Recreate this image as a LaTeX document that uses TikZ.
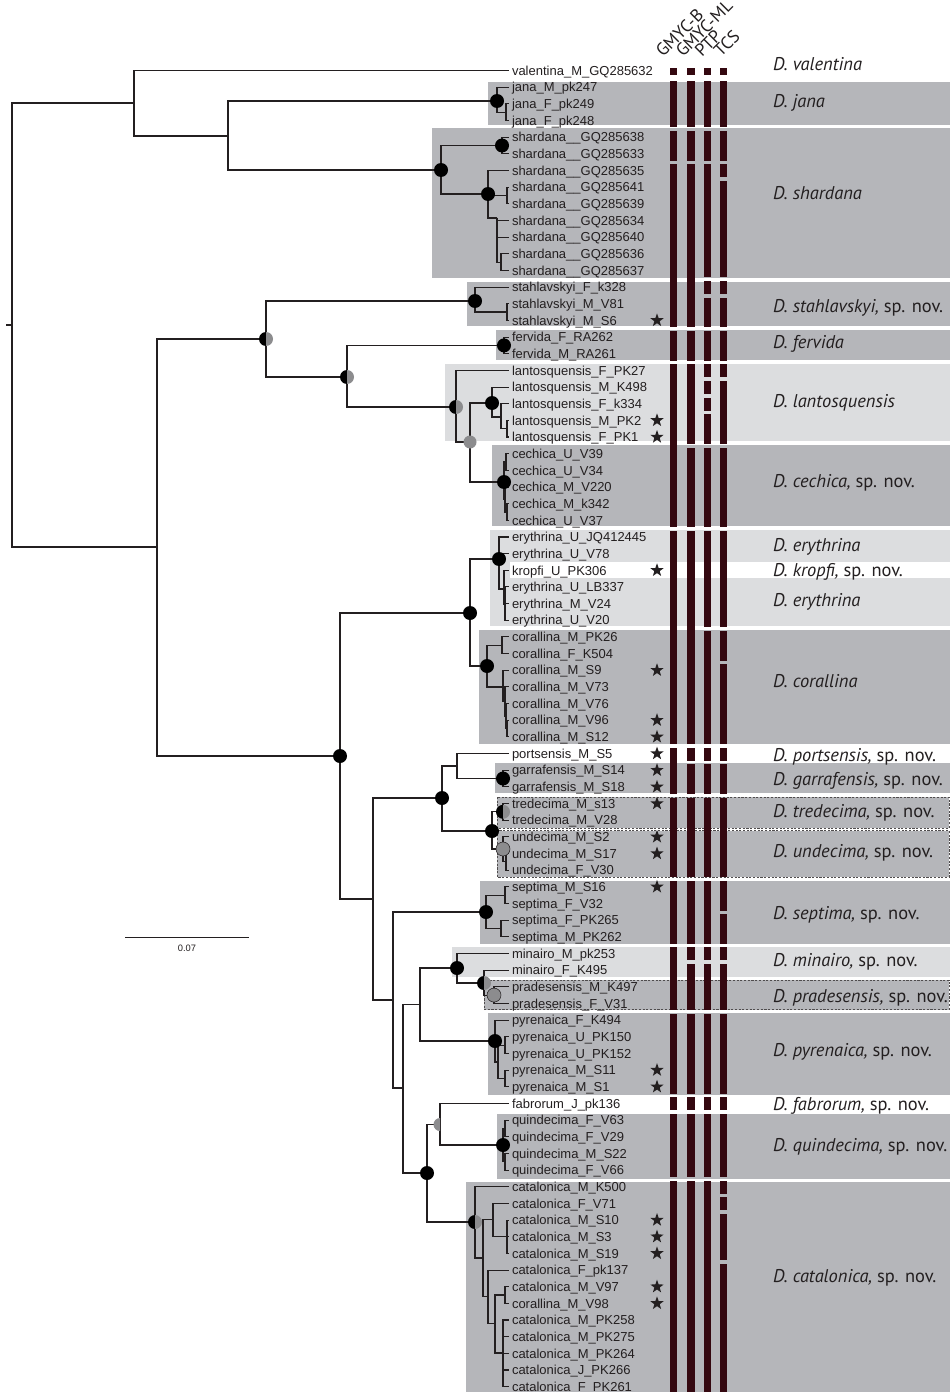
\documentclass[tikz,border=0pt]{standalone}
\usepackage{fontspec}
\setmainfont{Liberation Sans}
\newfontfamily\spfont{PT Sans}
\usetikzlibrary{shapes.geometric}
\definecolor{boxdark}{RGB}{181,182,186}
\definecolor{boxlight}{RGB}{220,221,223}
\definecolor{barcol}{RGB}{52,8,16}
\definecolor{suppgrey}{RGB}{140,140,142}
\definecolor{ink}{RGB}{35,31,32}
\newcommand\barseg[3]{\fill[barcol] ({#1-3.7},{70.5+16.66*(#2-1)-6}) rectangle ({#1+3.7},{70.5+16.66*(#3-1)+7});}
\newcommand\halfdot[3]{%
  \fill[#2] (#1) ++(90:0.14cm) arc[start angle=90,end angle=270,radius=0.14cm] -- cycle;
  \fill[#3] (#1) ++(-90:0.14cm) arc[start angle=-90,end angle=90,radius=0.14cm] -- cycle;}
\begin{document}
\begin{tikzpicture}[x=0.02cm,y=-0.02cm,every node/.style={inner sep=0pt,outer sep=0pt}]
\tikzset{
  branch/.style={draw=ink,line width=0.6pt},
  leaflab/.style={anchor=base west,font=\fontsize{7.4}{8}\selectfont,text=ink},
  splab/.style={anchor=base west,font=\spfont\fontsize{10.5}{12}\selectfont,text=ink},
  hdr/.style={anchor=base west,rotate=45,font=\spfont\fontsize{10}{11}\selectfont,text=ink},
  boxD/.style={fill=boxdark},
  boxL/.style={fill=boxlight},
  dbox/.style={fill=boxdark,draw=ink!80,dash pattern=on 1.2pt off 0.9pt,line width=0.45pt},
  starn/.style={star,star points=5,star point ratio=2.5,minimum size=0.28cm,fill=ink,draw=none},
  fulldot/.style={fill=black},
}
\useasboundingbox (0,0) rectangle (950,1392);
\fill[white] (0,0) rectangle (950,1392);
% boxes
\fill[boxD] (488,82.5) rectangle (950,125);
\fill[boxD] (432,128.5) rectangle (950,277.5);
\fill[boxD] (467,282) rectangle (950,326);
\fill[boxD] (496,330) rectangle (950,359.5);
\fill[boxL] (445,363.5) rectangle (950,441);
\fill[boxD] (492,445) rectangle (950,526);
\fill[boxL] (490,530) rectangle (950,625.5);
\fill[white] (510,562) rectangle (950,578);
\fill[boxD] (479,629.5) rectangle (950,744);
\fill[boxD] (495,763) rectangle (950,793);
\filldraw[dbox] (497,797) rectangle (949,828);
\filldraw[dbox] (497,830.5) rectangle (949,877);
\fill[boxD] (480,880.5) rectangle (950,943.5);
\fill[boxL] (452,947) rectangle (950,977);
\filldraw[dbox] (484,980) rectangle (949,1009.5);
\fill[boxD] (488,1013) rectangle (950,1094.5);
\fill[boxD] (497,1114) rectangle (950,1178.5);
\fill[boxD] (466,1182) rectangle (950,1392);
% leaves
\foreach \i in {1,...,80} {\coordinate (L\i) at (509,{70.5+16.66*(\i-1)});}
% internal nodes
\coordinate (R0) at (6,325); \coordinate (R) at (12,325);
\coordinate (T) at (134,103); \coordinate (T2) at (228,136);
\coordinate (J) at (497,101); \coordinate (J2) at (506,112.2);
\coordinate (S) at (441,170); \coordinate (Sa) at (502,145.5); \coordinate (Sb) at (488,194);
\coordinate (Sc) at (507,195.5); \coordinate (Sd) at (497,218); \coordinate (Sf) at (501,262.1);
\coordinate (U) at (157,547); \coordinate (V) at (266,339); \coordinate (St) at (475,301);
\coordinate (St2) at (507,312); \coordinate (X) at (347,377); \coordinate (F) at (504,345.4);
\coordinate (La) at (456,407); \coordinate (Lb) at (470,442); \coordinate (Lc) at (492,403);
\coordinate (Ld) at (501,417); \coordinate (Le) at (507,428.7); \coordinate (Ce) at (504,482);
\coordinate (Cf) at (506,462); \coordinate (Cg) at (505,499.5); \coordinate (Ch) at (507,512);
\coordinate (W) at (340,756); \coordinate (E) at (470,613); \coordinate (Er) at (499,559);
\coordinate (Erb) at (504,589); \coordinate (Erc) at (505,604); \coordinate (Co) at (487,666);
\coordinate (Coa) at (502,645.2); \coordinate (Cob) at (503,687); \coordinate (Coc) at (505,701.5);
\coordinate (Cod) at (506,716); \coordinate (Coe) at (507,728.5);
\coordinate (Y) at (373,899); \coordinate (G) at (442,798); \coordinate (P) at (457,766);
\coordinate (Ga) at (503,778.5); \coordinate (TU) at (492,831); \coordinate (Tr) at (503,811.8);
\coordinate (Un) at (503,849); \coordinate (Un2) at (506,861.8);
\coordinate (Z) at (393,1000); \coordinate (Se) at (486,912); \coordinate (Sea) at (505,895.2);
\coordinate (Seb) at (501,928.5);
\coordinate (Z2) at (403,1088); \coordinate (Z3) at (420,1004.5); \coordinate (Mi) at (457,968);
\coordinate (Mi2) at (484,983); \coordinate (Pr) at (494,995.1); \coordinate (Py) at (495,1041);
\coordinate (Pya) at (498,1062); \coordinate (Pyb) at (505,1045.1); \coordinate (Pyc) at (505,1078.4);
\coordinate (Z4) at (427,1173); \coordinate (Fq) at (440,1124.5); \coordinate (Q) at (503,1145);
\coordinate (Qa) at (505,1128.4); \coordinate (Qb) at (505,1161.7);
\coordinate (Ca) at (475,1222); \coordinate (Cz) at (483,1258); \coordinate (A) at (493,1219.7);
\coordinate (A2) at (507,1236.7); \coordinate (Bp) at (488,1296.6); \coordinate (B2) at (495,1323.5);
\coordinate (B3) at (505,1295); \coordinate (B4) at (503,1353);
% scale bar coordinates
\coordinate (sb1) at (125,937.5); \coordinate (sb2) at (249,937.5);
% branches
\draw[branch] (R0) -- (R);
\foreach \p/\c in {R/T,R/U,T/L1,T/T2,T2/J,T2/S,J/L2,J/J2,J2/L3,J2/L4,S/Sa,S/Sb,Sa/L5,Sa/L6,
  Sb/L7,Sb/Sc,Sb/Sd,Sc/L8,Sc/L9,Sd/L10,Sd/L11,Sd/Sf,Sf/L12,Sf/L13,
  U/V,U/W,V/St,V/X,St/L14,St/St2,St2/L15,St2/L16,X/F,X/La,F/L17,F/L18,La/L19,La/Lb,Lb/Lc,Lb/Ce,
  Lc/L20,Lc/Ld,Ld/L21,Ld/Le,Le/L22,Le/L23,Ce/Cf,Ce/Cg,Cf/L24,Cf/L25,Cg/L26,Cg/Ch,Ch/L27,Ch/L28,
  W/E,W/Y,E/Er,E/Co,Er/L29,Er/L30,Er/Erb,Erb/L31,Erb/Erc,Erc/L32,Erc/L33,Erc/L34,
  Co/Coa,Co/Cob,Coa/L35,Coa/L36,Cob/L37,Cob/Coc,Coc/L38,Coc/Cod,Cod/L39,Cod/Coe,Coe/L40,Coe/L41,
  Y/G,Y/Z,G/P,G/TU,P/L42,P/Ga,Ga/L43,Ga/L44,TU/Tr,TU/Un,Tr/L45,Tr/L46,Un/L47,Un/Un2,Un2/L48,Un2/L49,
  Z/Se,Z/Z2,Se/Sea,Se/Seb,Sea/L50,Sea/L51,Seb/L52,Seb/L53,
  Z2/Z3,Z2/Z4,Z3/Mi,Z3/Py,Mi/L54,Mi/Mi2,Mi2/L55,Mi2/Pr,Pr/L56,Pr/L57,Py/L58,Py/Pya,Pya/Pyb,Pya/Pyc,
  Pyb/L59,Pyb/L60,Pyc/L61,Pyc/L62,
  Z4/Fq,Z4/Ca,Fq/L63,Fq/Q,Q/Qa,Q/Qb,Qa/L64,Qa/L65,Qb/L66,Qb/L67,
  Ca/L68,Ca/Cz,Cz/A,Cz/Bp,A/L69,A/A2,A2/L70,A2/L71,A2/L72,Bp/L73,Bp/B2,B2/B3,B2/B4,B3/L74,B3/L75,
  B4/L76,B4/L77,B4/L78,B4/L79,B4/L80}
  {\draw[branch] (\p) |- (\c);}
% support dots
\foreach \n in {J,Sa,S,Sb,St,F,Lc,Ce,W,E,Er,Co,G,Ga,TU,Se,Mi,Py,Z4,Q}
  {\fill[fulldot] (\n) circle[radius=0.14cm];}
\foreach \n in {V,X,La,Tr,Mi2,Ca} {\halfdot{\n}{black}{suppgrey}}
\fill[suppgrey] (Lb) circle[radius=0.13cm];
\filldraw[fill=suppgrey,draw=ink,line width=0.3pt] (Un) circle[radius=0.14cm];
\filldraw[fill=suppgrey,draw=ink,line width=0.3pt] (Pr) circle[radius=0.14cm];
\fill[suppgrey] (Fq) ++(90:0.13cm) arc[start angle=90,end angle=270,radius=0.13cm] -- cycle;
% scale bar
\draw[branch] (sb1) -- (sb2);
\node[font=\fontsize{5.3}{6}\selectfont,text=ink] (sbl) at (187,948) {0.07};
% leaf labels
\foreach \lab [count=\i] in {valentina\_M\_GQ285632,jana\_M\_pk247,jana\_F\_pk249,jana\_F\_pk248,
  shardana\_\_GQ285638,shardana\_\_GQ285633,shardana\_\_GQ285635,shardana\_\_GQ285641,
  shardana\_\_GQ285639,shardana\_\_GQ285634,shardana\_\_GQ285640,shardana\_\_GQ285636,
  shardana\_\_GQ285637,stahlavskyi\_F\_k328,stahlavskyi\_M\_V81,stahlavskyi\_M\_S6,
  fervida\_F\_RA262,fervida\_M\_RA261,lantosquensis\_F\_PK27,lantosquensis\_M\_K498,
  lantosquensis\_F\_k334,lantosquensis\_M\_PK2,lantosquensis\_F\_PK1,cechica\_U\_V39,
  cechica\_U\_V34,cechica\_M\_V220,cechica\_M\_k342,cechica\_U\_V37,erythrina\_U\_JQ412445,
  erythrina\_U\_V78,kropfi\_U\_PK306,erythrina\_U\_LB337,erythrina\_M\_V24,erythrina\_U\_V20,
  corallina\_M\_PK26,corallina\_F\_K504,corallina\_M\_S9,corallina\_M\_V73,corallina\_M\_V76,
  corallina\_M\_V96,corallina\_M\_S12,portsensis\_M\_S5,garrafensis\_M\_S14,garrafensis\_M\_S18,
  tredecima\_M\_s13,tredecima\_M\_V28,undecima\_M\_S2,undecima\_M\_S17,undecima\_F\_V30,
  septima\_M\_S16,septima\_F\_V32,septima\_F\_PK265,septima\_M\_PK262,minairo\_M\_pk253,
  minairo\_F\_K495,pradesensis\_M\_K497,pradesensis\_F\_V31,pyrenaica\_F\_K494,
  pyrenaica\_U\_PK150,pyrenaica\_U\_PK152,pyrenaica\_M\_S11,pyrenaica\_M\_S1,fabrorum\_J\_pk136,
  quindecima\_F\_V63,quindecima\_F\_V29,quindecima\_M\_S22,quindecima\_F\_V66,catalonica\_M\_K500,
  catalonica\_F\_V71,catalonica\_M\_S10,catalonica\_M\_S3,catalonica\_M\_S19,catalonica\_F\_pk137,
  catalonica\_M\_V97,corallina\_M\_V98,catalonica\_M\_PK258,catalonica\_M\_PK275,
  catalonica\_M\_PK264,catalonica\_J\_PK266,catalonica\_F\_PK261}
  {\node[leaflab] (t\i) at (512,{70.5+16.66*(\i-1)+4.7}) {\lab};}
% stars
\foreach \r in {16,22,23,31,37,40,41,42,43,44,45,47,48,50,61,62,70,71,72,74,75}
  {\node[starn] (s\r) at (657,{70.5+16.66*(\r-1)}) {};}
% bars
\foreach \c in {673.4,690.8,707.3,723.7} {\fill[barcol] ({\c-3.7},68) rectangle ({\c+3.7},75);}
\foreach \a/\b in {2/4,5/6,7/16,17/18,19/28,29/41,42/44,45/49,50/53,54/57,58/62,63/63,64/67,68/80}
  {\barseg{673.4}{\a}{\b}}
\foreach \a/\b in {2/4,5/6,7/16,17/18,19/23,24/28,29/41,42/42,43/44,45/49,50/53,54/54,55/57,58/62,63/63,64/67,68/80}
  {\barseg{690.8}{\a}{\b}}
\foreach \a/\b in {2/4,5/6,7/13,14/14,15/16,17/18,19/19,20/20,21/21,22/23,24/28,29/34,35/41,42/42,43/44,45/49,50/53,54/54,55/57,58/62,63/63,64/67,68/80}
  {\barseg{707.3}{\a}{\b}}
\foreach \a/\b in {2/4,5/6,7/7,8/13,14/14,15/16,17/18,19/19,20/23,24/28,29/34,35/36,37/41,42/42,43/44,45/49,50/51,52/53,54/54,55/57,58/62,63/63,64/67,68/68,69/69,70/72,73/80}
  {\barseg{723.7}{\a}{\b}}
% headers
\node[hdr] (h1) at (663,58) {GMYC-B};
\node[hdr] (h2) at (683,58) {GMYC-ML};
\node[hdr] (h3) at (702,58) {PTP};
\node[hdr] (h4) at (721,58) {TCS};
% species labels
\foreach \yy/\txt [count=\k] in {
  65/{\itshape D. valentina},
  102/{\itshape D. jana},
  194/{\itshape D. shardana},
  306/{{\itshape D. stahlavskyi,} sp. nov.},
  342.7/{\itshape D. fervida},
  401.7/{\itshape D. lantosquensis},
  481.7/{{\itshape D. cechica,} sp. nov.},
  545/{\itshape D. erythrina},
  570.7/{{\itshape D. kropfi,} sp. nov.},
  600.7/{\itshape D. erythrina},
  681.7/{\itshape D. corallina},
  755/{{\itshape D. portsensis,} sp. nov.},
  779.3/{{\itshape D. garrafensis,} sp. nov.},
  811.7/{{\itshape D. tredecima,} sp. nov.},
  851.7/{{\itshape D. undecima,} sp. nov.},
  913.3/{{\itshape D. septima,} sp. nov.},
  960.7/{{\itshape D. minairo,} sp. nov.},
  996/{{\itshape D. pradesensis,} sp. nov.},
  1050/{{\itshape D. pyrenaica,} sp. nov.},
  1104/{{\itshape D. fabrorum,} sp. nov.},
  1145/{{\itshape D. quindecima,} sp. nov.},
  1276.7/{{\itshape D. catalonica,} sp. nov.}}
  {\node[splab] (sp\k) at (773,{\yy+6}) {\txt};}
\end{tikzpicture}
\end{document}
